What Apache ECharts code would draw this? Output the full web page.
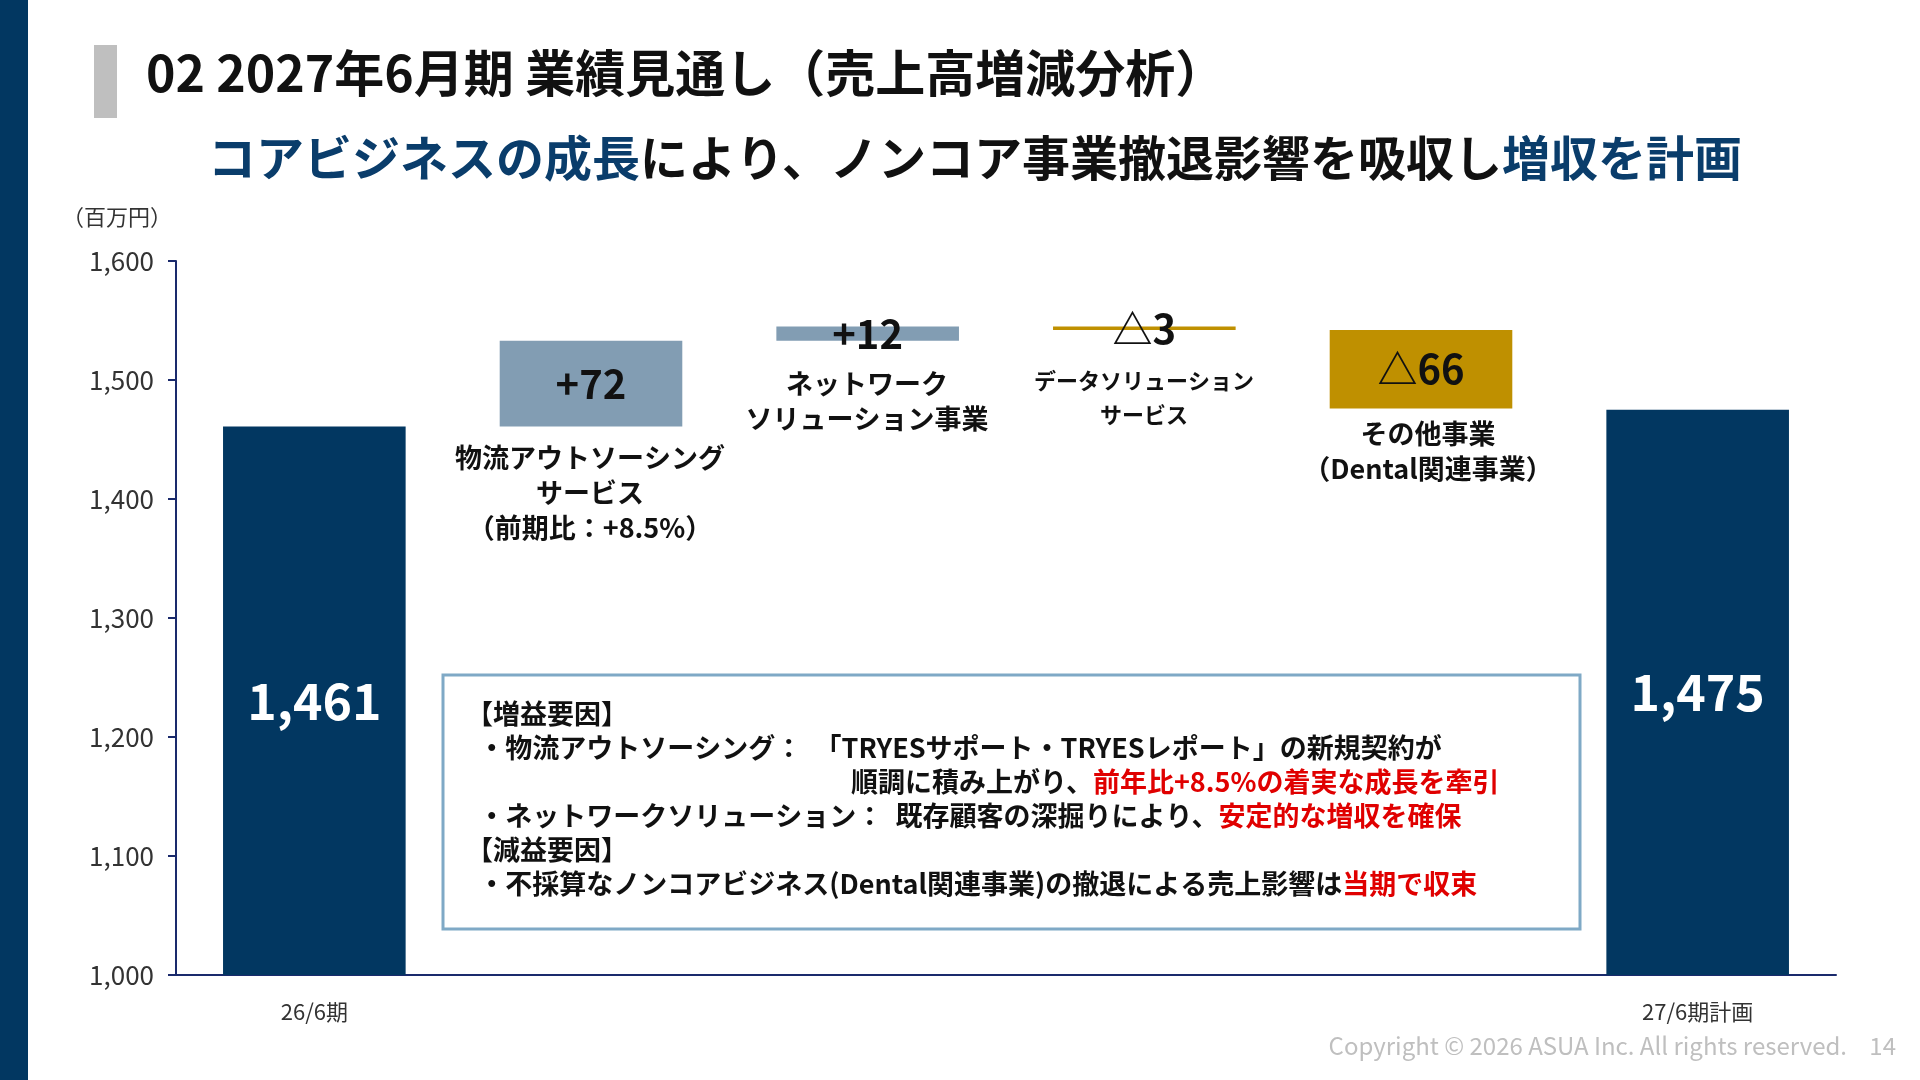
<!DOCTYPE html>
<html>
<head>
<meta charset="utf-8">
<script src="https://cdn.jsdelivr.net/npm/echarts@6/dist/echarts.min.js"></script>
<style>
  html, body { margin: 0; padding: 0; background: #fff; }
  #chart { width: 1920px; height: 1080px; }
</style>
</head>
<body>
<div id="chart"></div>
<script>
var categories = ['26/6期', '', '', '', '', '27/6期計画'];
var baseValues = [0, 1461, 1533, 1542, 1476, 0];
var barValues = [1461, 72, 12, 3, 66, 1475];
var barLabels = ['1,461', '+72', '+12', '△3', '△66', '1,475'];
var barColors = ['#023761', '#829db3', '#829db3', '#bf9000', '#bf9000', '#023761'];
var yTicks = [1000, 1600, 100];

var font = '"Noto Sans CJK JP", "Noto Sans", sans-serif';
var chart = echarts.init(document.getElementById('chart'));

var option = {
  animation: false,
  textStyle: { fontFamily: font },
  grid: { left: 176, right: 84, top: 261, bottom: 105 },
  xAxis: {
    type: 'category',
    data: categories,
    axisLine: { lineStyle: { color: '#1a2a6c', width: 2 } },
    axisTick: { show: false },
    axisLabel: { color: '#333', fontSize: 22, margin: 26, fontFamily: font }
  },
  yAxis: {
    type: 'value',
    min: yTicks[0], max: yTicks[1], interval: yTicks[2],
    axisLine: { show: true, lineStyle: { color: '#1a2a6c', width: 2 } },
    axisTick: { show: true, length: 8, lineStyle: { color: '#1a2a6c', width: 2 } },
    splitLine: { show: false },
    axisLabel: {
      color: '#333', fontSize: 26, margin: 22, fontFamily: font,
      formatter: function (v) { return v.toLocaleString('en-US'); }
    }
  },
  series: [{
    type: 'bar', stack: 'w', barWidth: '66%',
    itemStyle: { color: 'transparent' },
    data: baseValues, silent: true
  }, {
    type: 'bar', stack: 'w', barWidth: '66%',
    data: barValues.map(function (v, i) {
      return {
        value: v,
        itemStyle: { color: barColors[i] },
        label: {
          show: true,
          position: i === 3 ? 'top' : 'inside',
          distance: i === 3 ? -22 : 5,
          formatter: barLabels[i],
          fontSize: (i === 0 || i === 5) ? 50 : 40,
          fontWeight: 'bold',
          color: (i === 0 || i === 5) ? '#fff' : '#111'
        }
      };
    })
  }],
  graphic: [
    { type: 'rect', shape: { x: 0, y: 0, width: 28, height: 1080 }, style: { fill: '#023761' } },
    { type: 'rect', shape: { x: 94, y: 45, width: 23, height: 73 }, style: { fill: '#bfbfbf' } },
    { type: 'text', left: 146, top: 48, style: { text: '02 2027年6月期 業績見通し（売上高増減分析）', font: 'bold 50px ' + font, fill: '#111' } },
    { type: 'text', left: 208, top: 134, style: {
      rich: {
        b: { font: 'bold 48px ' + font, fill: '#0a3d6b' },
        k: { font: 'bold 48px ' + font, fill: '#111' }
      },
      text: '{b|コアビジネスの成長}{k|により、ノンコア事業撤退影響を吸収し}{b|増収を計画}'
    } },
    { type: 'text', left: 62, top: 206, style: { text: '（百万円）', font: '22px ' + font, fill: '#333' } },
    { type: 'text', x: 590, y: 440, style: { text: '物流アウトソーシング\nサービス\n（前期比：+8.5%）', font: 'bold 27px ' + font, fill: '#111', align: 'center', lineHeight: 35 } },
    { type: 'text', x: 867, y: 366, style: { text: 'ネットワーク\nソリューション事業', font: 'bold 27px ' + font, fill: '#111', align: 'center', lineHeight: 35 } },
    { type: 'text', x: 1144, y: 364, style: { text: 'データソリューション\nサービス', font: 'bold 22px ' + font, fill: '#111', align: 'center', lineHeight: 34 } },
    { type: 'text', x: 1428, y: 416, style: { text: 'その他事業\n（Dental関連事業）', font: 'bold 27px ' + font, fill: '#111', align: 'center', lineHeight: 35 } },
    { type: 'rect', shape: { x: 443, y: 675, width: 1137, height: 254 }, style: { fill: '#fff', stroke: '#7fa9c6', lineWidth: 3 } },
    { type: 'text', left: 466, top: 697, style: {
      lineHeight: 34,
      rich: {
        k: { font: 'bold 27px ' + font, fill: '#111' },
        r: { font: 'bold 27px ' + font, fill: '#e00000' },
        p: { width: 385 }
      },
      text: '{k|【増益要因】}\n' +
        '{k|  ・物流アウトソーシング：  「TRYESサポート・TRYESレポート」の新規契約が}\n' +
        '{p|}{k|順調に積み上がり、}{r|前年比+8.5%の着実な成長を牽引}\n' +
        '{k|  ・ネットワークソリューション：  既存顧客の深掘りにより、}{r|安定的な増収を確保}\n' +
        '{k|【減益要因】}\n' +
        '{k|  ・不採算なノンコアビジネス(Dental関連事業)の撤退による売上影響は}{r|当期で収束}'
    } },
    { type: 'text', right: 73, top: 1034, style: { text: 'Copyright © 2026 ASUA Inc. All rights reserved.', font: '24px ' + font, fill: '#bfbfbf' } },
    { type: 'text', right: 24, top: 1034, style: { text: '14', font: '24px ' + font, fill: '#bfbfbf' } }
  ]
};
chart.setOption(option);
</script>
</body>
</html>
